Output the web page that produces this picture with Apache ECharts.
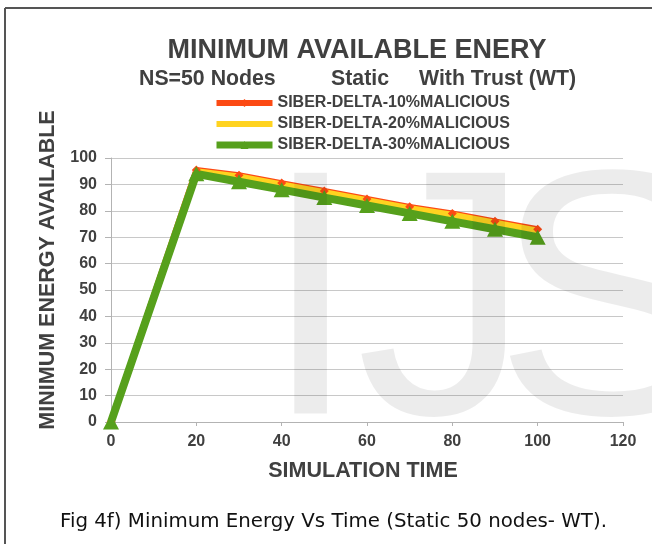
<!DOCTYPE html>
<html>
<head>
<meta charset="utf-8">
<script src="https://cdn.jsdelivr.net/npm/echarts@6/dist/echarts.min.js"></script>
<style>
  html, body { margin: 0; padding: 0; background: #fff; }
  #chart { width: 652px; height: 544px; }
</style>
</head>
<body>
<div id="chart"></div>
<script>
// Simulation time samples
const times = [0, 20, 30, 40, 50, 60, 70, 80, 90, 100];

// Minimum available energy per malicious ratio
const mal10 = [0, 95.5, 93.5, 90.5, 87.5, 84.5, 81.5, 79, 76, 73];
const mal20 = [0, 95, 93, 90, 87, 84, 81, 78.5, 75.5, 72.5];
const mal30 = [0, 94, 91, 88, 85, 82, 79, 76, 73, 70];

const seriesNames = [
  'SIBER-DELTA-10%MALICIOUS',
  'SIBER-DELTA-20%MALICIOUS',
  'SIBER-DELTA-30%MALICIOUS'
];

const titleText = 'MINIMUM AVAILABLE ENERY';
const subtitleParts = ['NS=50 Nodes', 'Static', 'With Trust (WT)'];
const xAxisName = 'SIMULATION TIME';
const yAxisName = 'MINIMUM ENERGY AVAILABLE';
const captionText = 'Fig 4f) Minimum Energy Vs Time (Static 50 nodes- WT).';
const markLetters = ['I', 'J', 'S'];

const pair = (xs, ys) => xs.map((x, i) => [x, ys[i]]);
const ink = '#404040';
const font = 'Liberation Sans, Arial, sans-serif';
const colors = ['#fc4a14', '#ffd320', '#56a01c'];

const chart = echarts.init(document.getElementById('chart'), null, { renderer: 'canvas' });

const subtitleLeft = [134, 326, 414];
const markLeft = [262, 356, 494];

chart.setOption({
  backgroundColor: '#ffffff',
  animation: false,
  textStyle: { fontFamily: font },
  title: [
    {
      text: titleText,
      left: 352, top: 32, textAlign: 'center',
      textStyle: { fontSize: 27, fontWeight: 'bold', color: ink, fontFamily: font }
    }
  ].concat(subtitleParts.map((t, i) => ({
    text: t, left: subtitleLeft[i], top: 64,
    textStyle: { fontSize: 21.3, fontWeight: 'bold', color: ink, fontFamily: font }
  }))),
  legend: {
    orient: 'vertical',
    left: 208, top: 90,
    itemWidth: 56, itemHeight: 10, itemGap: 5,
    data: seriesNames.map((n, i) => ({
      name: n,
      lineStyle: { width: i === 2 ? 7 : 6, color: colors[i] },
      itemStyle: i === 1 ? { opacity: 0 } : { color: colors[i] }
    })),
    textStyle: { fontSize: 16, fontWeight: 'bold', color: ink, fontFamily: font }
  },
  grid: { left: 111, right: 29, top: 158, bottom: 122, containLabel: false },
  xAxis: {
    type: 'value', min: 0, max: 120, interval: 20,
    name: xAxisName, nameLocation: 'middle', nameGap: 38,
    nameTextStyle: { fontSize: 21.5, fontWeight: 'bold', color: ink, fontFamily: font, padding: [0, 8, 0, 0] },
    axisLine: { lineStyle: { color: '#b3b3b3', width: 1 } },
    axisTick: { show: true, length: 4, lineStyle: { color: '#b3b3b3' } },
    axisLabel: { fontSize: 16, fontWeight: 'bold', color: ink, margin: 12 },
    splitLine: { show: false }
  },
  yAxis: {
    type: 'value', min: 0, max: 100, interval: 10,
    name: yAxisName, nameLocation: 'middle', nameGap: 51, nameRotate: 90,
    nameTextStyle: { fontSize: 21.5, fontWeight: 'bold', color: ink, fontFamily: font, padding: [0, 0, 0, 40] },
    axisLine: { show: true, lineStyle: { color: '#b3b3b3', width: 1 } },
    axisTick: { show: true, length: 6, lineStyle: { color: '#b3b3b3' } },
    axisLabel: { fontSize: 16, fontWeight: 'bold', color: ink, margin: 14 },
    splitLine: { show: true, lineStyle: { color: '#c8c8c8', width: 1 } }
  },
  series: [
    {
      name: seriesNames[0], type: 'line', data: pair(times, mal10),
      color: colors[0],
      lineStyle: { width: 6, color: colors[0] },
      symbol: 'diamond', symbolSize: 9,
      itemStyle: { color: colors[0] }
    },
    {
      name: seriesNames[1], type: 'line', data: pair(times, mal20),
      color: colors[1],
      lineStyle: { width: 6, color: colors[1] },
      symbol: 'none',
      itemStyle: { color: colors[1] }
    },
    {
      name: seriesNames[2], type: 'line', data: pair(times, mal30),
      color: colors[2],
      lineStyle: { width: 8, color: colors[2] },
      symbol: 'triangle', symbolSize: [16, 15],
      itemStyle: { color: colors[2] }
    }
  ],
  graphic: [
    // page frame
    { type: 'line', shape: { x1: 5, y1: 8, x2: 652, y2: 8 }, style: { stroke: '#555', lineWidth: 2 }, z: 100 },
    { type: 'line', shape: { x1: 5, y1: 8, x2: 5, y2: 544 }, style: { stroke: '#555', lineWidth: 2 }, z: 100 }
  ].concat(markLetters.map((ch, i) => ({
    // faint publisher mark
    type: 'text', left: markLeft[i], top: 142, z: 100, silent: true,
    style: { text: ch, font: '350px Liberation Sans, Arial, sans-serif', fill: 'rgba(0,0,0,0.075)' }
  }))).concat([
    // figure caption
    {
      type: 'text', left: 60, top: 512, z: 100,
      style: { text: captionText, font: '19.8px DejaVu Sans, sans-serif', fill: '#111' }
    }
  ])
});
</script>
</body>
</html>
